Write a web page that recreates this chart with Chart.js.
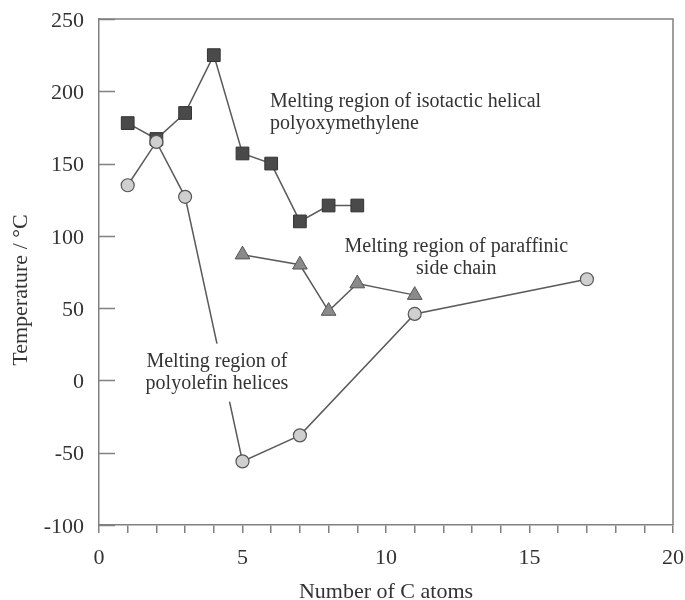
<!DOCTYPE html>
<html>
<head>
<meta charset="utf-8">
<script src="https://cdn.jsdelivr.net/npm/chart.js@4"></script>
<style>
html, body { margin: 0; padding: 0; background: #fff; }
#wrap { width: 685px; height: 600px; }
</style>
</head>
<body>
<div id="wrap"><canvas id="chart"></canvas></div>
<script>
// Melting temperature vs. number of C atoms in the side chain
const olefinX = [1, 2, 3, 5, 7, 11, 17];
const olefinY = [135, 165, 127, -56, -38, 46, 70];

const oxyX = [1, 2, 3, 4, 5, 6, 7, 8, 9];
const oxyY = [178, 167, 185, 225, 157, 150, 110, 121, 121];

const paraX = [5, 7, 8, 9, 11];
const paraY = [87, 80, 48, 67, 59];

const xTicks = [0, 5, 10, 15, 20];
const yTicks = [-100, -50, 0, 50, 100, 150, 200, 250];

// labels placed in data coordinates
const notes = [
    { x: 5.96, y: 193, lines: ['Melting region of isotactic helical', 'polyoxymethylene'], align: 'left' },
    { x: 12.45, y: 92.5, lines: ['Melting region of paraffinic', 'side chain'], align: 'center' },
    { x: 4.11, y: 13, lines: ['Melting region of', 'polyolefin helices'], align: 'center', mask: true }
];

const FONT = '"Liberation Serif", "Times New Roman", serif';
const AXIS = '#808080';
const TEXT = '#333333';

function toPoints(xs, ys) {
    return xs.map((x, i) => ({ x: x, y: ys[i] }));
}

// Frame, inward y ticks, axis titles and the text labels
const decorations = {
    id: 'decorations',
    beforeDatasetsDraw(chart) {
        const ctx = chart.ctx;
        const area = chart.chartArea;
        const yScale = chart.scales.y;
        ctx.save();
        ctx.strokeStyle = AXIS;
        ctx.lineWidth = 1.5;
        ctx.beginPath();
        ctx.moveTo(area.left, area.top);
        ctx.lineTo(area.right, area.top);
        ctx.lineTo(area.right, area.bottom);
        ctx.stroke();
        // y ticks point into the plot
        yTicks.forEach(v => {
            const py = Math.round(yScale.getPixelForValue(v)) + 0.5;
            ctx.beginPath();
            ctx.moveTo(area.left, py);
            ctx.lineTo(area.left + 16, py);
            ctx.stroke();
        });
        ctx.restore();
    },
    afterDatasetsDraw(chart) {
        const ctx = chart.ctx;
        const xs = chart.scales.x;
        const ys = chart.scales.y;
        const area = chart.chartArea;
        ctx.save();
        ctx.font = '20px ' + FONT;
        ctx.fillStyle = TEXT;
        ctx.textBaseline = 'middle';
        notes.forEach(n => {
            const px = xs.getPixelForValue(n.x);
            const py = ys.getPixelForValue(n.y);
            const lh = 22;
            if (n.mask) {
                const w = Math.max(...n.lines.map(t => ctx.measureText(t).width));
                ctx.fillStyle = '#ffffff';
                ctx.fillRect(px - w / 2 - 6, py - 18, w + 12, lh * n.lines.length + 14);
                ctx.fillStyle = TEXT;
            }
            ctx.textAlign = n.align;
            n.lines.forEach((t, i) => ctx.fillText(t, px, py + i * lh));
        });

        ctx.font = '22px ' + FONT;
        ctx.textAlign = 'center';
        ctx.textBaseline = 'alphabetic';
        ctx.fillText('Number of C atoms', (area.left + area.right) / 2, 598);

        ctx.translate(27, 290);
        ctx.rotate(-Math.PI / 2);
        ctx.fillText('Temperature / \u00B0C', 0, 0);
        ctx.restore();
    }
};

const lineColor = '#5a5a5a';

new Chart(document.getElementById('chart'), {
    type: 'scatter',
    data: {
        datasets: [
            {
                label: 'polyolefin',
                data: toPoints(olefinX, olefinY),
                showLine: true,
                borderColor: lineColor,
                borderWidth: 1.5,
                pointStyle: 'circle',
                pointRadius: 6.5,
                pointBackgroundColor: '#cfcfcf',
                pointBorderColor: '#555555',
                pointBorderWidth: 1.2
            },
            {
                label: 'polyoxymethylene',
                data: toPoints(oxyX, oxyY),
                showLine: true,
                borderColor: lineColor,
                borderWidth: 1.5,
                pointStyle: 'rect',
                pointRadius: 9,
                pointBackgroundColor: '#4a4a4a',
                pointBorderColor: '#333333',
                pointBorderWidth: 1
            },
            {
                label: 'paraffinic',
                data: toPoints(paraX, paraY),
                showLine: true,
                borderColor: lineColor,
                borderWidth: 1.5,
                pointStyle: 'triangle',
                pointRadius: 8.5,
                pointBackgroundColor: '#8a8a8a',
                pointBorderColor: '#555555',
                pointBorderWidth: 1
            }
        ]
    },
    options: {
        responsive: true,
        maintainAspectRatio: false,
        animation: false,
        events: [],
        layout: {
            padding: { top: 19, right: 12, left: 0, bottom: 0 }
        },
        plugins: {
            legend: { display: false },
            tooltip: { enabled: false }
        },
        scales: {
            x: {
                type: 'linear',
                min: 0,
                max: 20,
                afterFit: scale => {
                    scale.height = 75;
                    scale.paddingLeft = 0;
                    scale.paddingRight = 0;
                },
                border: { display: true, color: AXIS, width: 1.5 },
                grid: {
                    drawOnChartArea: false,
                    drawTicks: true,
                    tickLength: 8,
                    color: AXIS,
                    lineWidth: 1.5
                },
                ticks: {
                    stepSize: 1,
                    autoSkip: false,
                    maxRotation: 0,
                    padding: 12,
                    color: TEXT,
                    font: { size: 22, family: FONT },
                    callback: v => (xTicks.includes(v) ? String(v) : '')
                }
            },
            y: {
                min: -100,
                max: 250,
                afterFit: scale => {
                    scale.width = 99;
                    scale.paddingTop = 0;
                    scale.paddingBottom = 0;
                },
                border: { display: true, color: AXIS, width: 1.5 },
                grid: { display: false, drawTicks: false },
                ticks: {
                    stepSize: 50,
                    padding: 15,
                    labelOffset: 2,
                    color: TEXT,
                    font: { size: 22, family: FONT }
                }
            }
        }
    },
    plugins: [decorations]
});
</script>
</body>
</html>
